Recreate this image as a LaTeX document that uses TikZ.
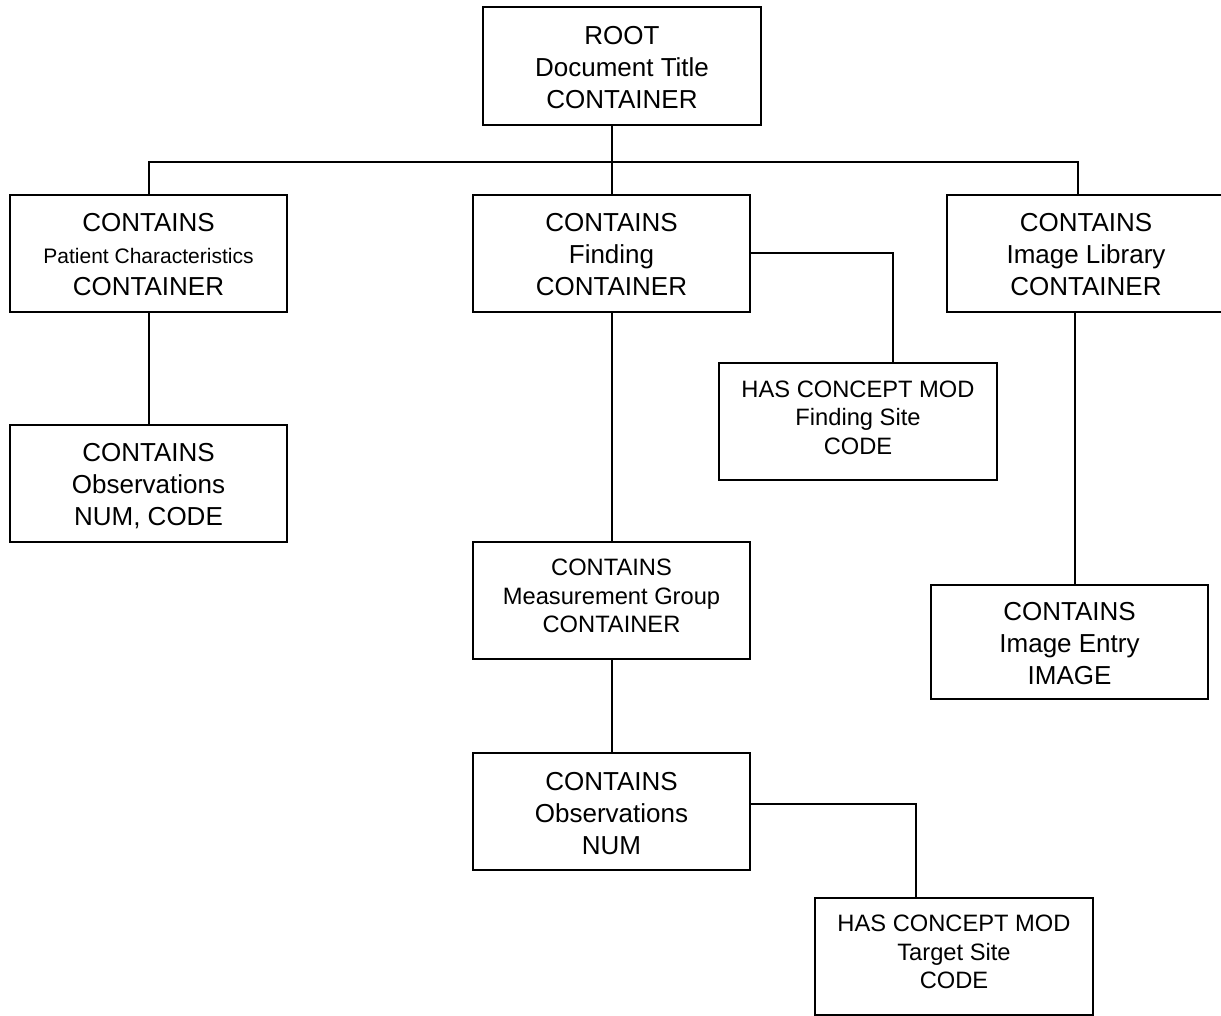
\documentclass[tikz,border=0pt]{standalone}
\usepackage{fontspec}
\setmainfont{Liberation Sans}
\newcommand{\bigtop}{\rule{0pt}{27pt}}
\newcommand{\bigbot}{\rule[-6pt]{0pt}{0pt}}
\newcommand{\smtop}{\rule{0pt}{20pt}}
\newcommand{\smbot}{\rule[-12pt]{0pt}{0pt}}
\begin{document}
\begin{tikzpicture}[x=1pt,y=-1pt,
  box/.style={draw,line width=2pt,minimum width=277pt,minimum height=117pt,inner sep=0pt,align=center,font=\fontsize{26}{32}\selectfont},
  sbox/.style={box,font=\fontsize{23.7}{28.5}\selectfont},
  link/.style={line width=2pt}]
\useasboundingbox (0,0) rectangle (1221,1015);
\clip (0,0) rectangle (1221,1015);
\node[box,minimum width=278pt,minimum height=118pt] (root) at (622,66) {\bigtop ROOT\\Document Title\\CONTAINER\bigbot};
\node[box] (pat) at (148.5,253) {\bigtop CONTAINS\\{\fontsize{21}{28}\selectfont Patient Characteristics}\\CONTAINER\bigbot};
\node[box] (find) at (611.5,253) {\bigtop CONTAINS\\Finding\\CONTAINER\bigbot};
\node[box,minimum width=279pt] (lib) at (1086,253) {\bigtop CONTAINS\\Image Library\\CONTAINER\bigbot};
\node[box] (obs1) at (148.5,483) {\bigtop CONTAINS\\Observations\\NUM, CODE\bigbot};
\node[sbox,minimum width=278pt] (fsite) at (858,421.5) {\smtop HAS CONCEPT MOD\\Finding Site\\CODE\smbot};
\node[sbox] (mgrp) at (611.5,600) {\smtop CONTAINS\\Measurement Group\\CONTAINER\smbot};
\node[box] (obs2) at (611.5,811.5) {\bigtop CONTAINS\\Observations\\NUM\bigbot};
\node[sbox,minimum width=278pt] (tsite) at (954,956) {\smtop HAS CONCEPT MOD\\Target Site\\CODE\smbot};
\node[box,minimum height=114pt] (entry) at (1069.5,642) {\bigtop CONTAINS\\Image Entry\\IMAGE\bigbot};
\coordinate (bus) at (612,162);
\draw[link] (root.south -| find.north) -- (find.north);
\draw[link] (pat.north) |- (bus) -| ([xshift=-8pt]lib.north);
\draw[link] (pat.south) -- (obs1.north);
\draw[link] (find.south) -- (mgrp.north);
\draw[link] (mgrp.south) -- (obs2.north);
\draw[link] (find.east) -| ([xshift=35pt]fsite.north);
\draw[link] ([yshift=8pt]obs2.east) -| ([xshift=-38pt]tsite.north);
\draw[link] ([xshift=5.5pt]entry.north) -- ([xshift=5.5pt]entry.north |- lib.south);
\end{tikzpicture}
\end{document}
